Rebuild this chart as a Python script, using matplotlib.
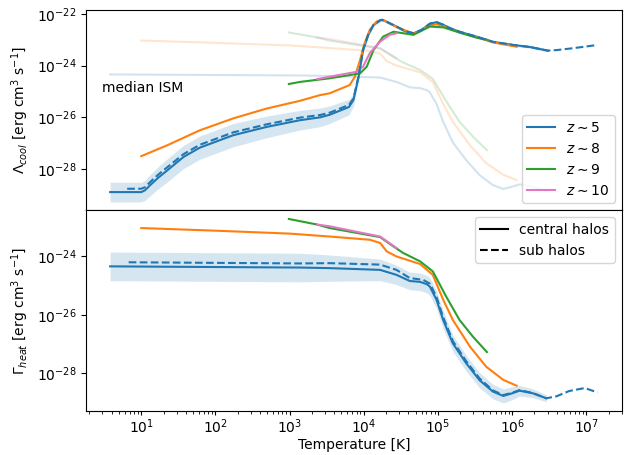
import numpy as np
import matplotlib
matplotlib.use("Agg")
import matplotlib.pyplot as plt
from matplotlib.ticker import FixedLocator, NullLocator, LogLocator

# ---------------- data (log10 values) ----------------
# Cooling rates (top panel)
cool_z5_c_logT = [0.58, 1.00, 1.05, 1.12, 1.23, 1.35, 1.57, 1.79, 2.24, 2.69, 3.14, 3.41, 3.54, 3.80,
                  3.86, 3.93, 3.99, 4.06, 4.13, 4.22, 4.25, 4.29, 4.44, 4.55, 4.67, 4.78, 4.89, 4.98,
                  5.07, 5.16, 5.29, 5.52, 5.74, 6.01, 6.24, 6.48]
cool_z5_c_logL = [-28.89, -28.89, -28.82, -28.62, -28.33, -28.05, -27.53, -27.17, -26.69, -26.37, -26.11,
                  -26.00, -25.90, -25.60, -25.33, -24.43, -23.40, -22.81, -22.43, -22.25, -22.23, -22.28,
                  -22.49, -22.66, -22.75, -22.62, -22.38, -22.32, -22.42, -22.55, -22.69, -22.88, -23.08,
                  -23.20, -23.28, -23.42]
cool_z5_c_width = [0.38, 0.38, 0.39, 0.41, 0.43, 0.45, 0.45, 0.45, 0.45, 0.42, 0.38, 0.36, 0.34, 0.30,
                   0.25, 0.18, 0.12, 0.08, 0.06, 0.05, 0.05, 0.05, 0.05, 0.05, 0.05, 0.05, 0.05, 0.05,
                   0.05, 0.05, 0.05, 0.05, 0.05, 0.05, 0.05, 0.05]

cool_z5_s_logT = [0.81, 1.00, 1.05, 1.12, 1.23, 1.35, 1.57, 1.79, 2.24, 2.69, 3.14, 3.41, 3.54, 3.80,
                  3.86, 3.93, 3.99, 4.06, 4.13, 4.22, 4.25, 4.29, 4.44, 4.55, 4.67, 4.78, 4.89, 4.98,
                  5.07, 5.16, 5.29, 5.52, 5.74, 6.01, 6.24, 6.48, 6.60, 6.81, 7.00, 7.15]
cool_z5_s_logL = [-28.76, -28.76, -28.70, -28.50, -28.21, -27.93, -27.42, -27.06, -26.58, -26.27, -26.01,
                  -25.91, -25.82, -25.52, -25.27, -24.40, -23.38, -22.80, -22.43, -22.25, -22.23, -22.28,
                  -22.49, -22.66, -22.75, -22.62, -22.38, -22.32, -22.42, -22.55, -22.69, -22.88, -23.08,
                  -23.20, -23.28, -23.42, -23.40, -23.33, -23.26, -23.20]

cool_z8_logT = [1.00, 1.35, 1.79, 2.24, 2.69, 3.14, 3.41, 3.54, 3.81, 3.88, 3.95, 4.01, 4.08, 4.17, 4.24,
                4.29, 4.44, 4.67, 4.89, 4.98, 5.07, 5.29, 5.52, 5.74, 6.06]
cool_z8_logL = [-27.50, -27.08, -26.50, -26.04, -25.66, -25.36, -25.14, -25.07, -24.75, -24.43, -23.78,
                -23.14, -22.62, -22.30, -22.23, -22.28, -22.50, -22.77, -22.45, -22.40, -22.47, -22.72,
                -22.90, -23.10, -23.27]

cool_z9_logT = [2.99, 3.14, 3.54, 3.95, 4.04, 4.13, 4.26, 4.40, 4.67, 4.89, 5.07, 5.29, 5.52, 5.66]
cool_z9_logL = [-24.71, -24.63, -24.49, -24.30, -24.04, -23.40, -22.88, -22.69, -22.81, -22.49, -22.52,
                -22.72, -22.92, -23.00]

cool_z10_logT = [3.37, 3.54, 3.90, 3.99, 4.08, 4.22, 4.35, 4.44]
cool_z10_logL = [-24.52, -24.43, -24.24, -24.04, -23.52, -23.07, -22.81, -22.75]

# Heating rates (bottom panel)
heat_z5_c_logT = [0.58, 3.14, 3.54, 4.22, 4.44, 4.62, 4.76, 4.85, 4.89, 4.98, 5.07, 5.20, 5.38, 5.56,
                  5.74, 5.88, 6.00, 6.10, 6.28, 6.46]
heat_z5_c_logG = [-24.34, -24.38, -24.40, -24.46, -24.63, -24.84, -24.87, -24.95, -25.03, -25.48, -26.17,
                  -26.97, -27.65, -28.23, -28.62, -28.77, -28.68, -28.59, -28.68, -28.85]
heat_z5_c_width = [0.49, 0.49, 0.45, 0.37, 0.33, 0.30, 0.30, 0.30, 0.30, 0.30, 0.30, 0.28, 0.27, 0.26,
                   0.25, 0.24, 0.22, 0.18, 0.15, 0.12]

heat_z5_s_logT = [0.83, 3.14, 3.54, 4.22, 4.44, 4.62, 4.80, 4.89, 4.98, 5.07, 5.20, 5.38, 5.56, 5.74,
                  5.88, 6.00, 6.10, 6.28, 6.46, 6.60, 6.77, 6.98, 7.15]
heat_z5_s_logG = [-24.20, -24.24, -24.23, -24.28, -24.46, -24.74, -24.80, -24.93, -25.38, -26.08, -26.89,
                  -27.58, -28.17, -28.58, -28.74, -28.66, -28.57, -28.67, -28.85, -28.78, -28.60,
                  -28.50, -28.65]

heat_z8_logT = [1.00, 2.00, 3.00, 3.54, 4.08, 4.22, 4.31, 4.44, 4.76, 4.93, 5.07, 5.20, 5.43, 5.65,
                5.88, 6.06]
heat_z8_logG = [-23.03, -23.12, -23.22, -23.32, -23.43, -23.54, -23.83, -24.00, -24.26, -24.63, -25.48,
                -26.17, -27.08, -27.77, -28.22, -28.42]

heat_z9_logT = [2.99, 3.37, 3.54, 4.22, 4.40, 4.53, 4.76, 4.93, 5.11, 5.29, 5.47, 5.66]
heat_z9_logG = [-22.72, -22.91, -23.03, -23.34, -23.66, -23.88, -24.17, -24.51, -25.37, -26.17, -26.74,
                -27.27]

heat_z10_logT = [3.37, 3.54, 4.22, 4.44]
heat_z10_logG = [-22.91, -22.97, -23.32, -23.71]

z_labels = [r"$z\sim5$", r"$z\sim8$", r"$z\sim9$", r"$z\sim10$"]
z_colors = ["#1f77b4", "#ff7f0e", "#2ca02c", "#e377c2"]
x_ticks = [1e1, 1e2, 1e3, 1e4, 1e5, 1e6, 1e7]


def p(a):
    return 10.0 ** np.asarray(a)


fig = plt.figure(figsize=(6.28, 4.55), dpi=100)
ax1 = fig.add_axes([0.137, 0.538, 0.853, 0.440])
ax2 = fig.add_axes([0.137, 0.097, 0.853, 0.441], sharex=ax1)

# ---------------- top: cooling ----------------
heat_sets = [(heat_z5_c_logT, heat_z5_c_logG), (heat_z8_logT, heat_z8_logG),
             (heat_z9_logT, heat_z9_logG), (heat_z10_logT, heat_z10_logG)]
for (t, g), c in zip(heat_sets, z_colors):
    ax1.plot(p(t), p(g), color=c, alpha=0.2, lw=1.5)

lo = np.asarray(cool_z5_c_logL) - np.asarray(cool_z5_c_width)
hi = np.asarray(cool_z5_c_logL) + np.asarray(cool_z5_c_width)
ax1.fill_between(p(cool_z5_c_logT), p(lo), p(hi), color=z_colors[0], alpha=0.18, lw=0)
ax1.plot(p(cool_z5_c_logT), p(cool_z5_c_logL), color=z_colors[0], lw=1.5, label=z_labels[0])
ax1.plot(p(cool_z8_logT), p(cool_z8_logL), color=z_colors[1], lw=1.5, label=z_labels[1])
ax1.plot(p(cool_z9_logT), p(cool_z9_logL), color=z_colors[2], lw=1.5, label=z_labels[2])
ax1.plot(p(cool_z10_logT), p(cool_z10_logL), color=z_colors[3], lw=1.5, label=z_labels[3])
ax1.plot(p(cool_z5_s_logT), p(cool_z5_s_logL), color=z_colors[0], lw=1.5, ls="--")

ax1.text(3.0, 10 ** -24.87, "median ISM", fontsize=10, ha="left", va="center")

ax1.set_xscale("log")
ax1.set_yscale("log")
ax1.set_xlim(1.8, 3.0e7)
ax1.set_ylim(10 ** -29.59, 10 ** -21.85)
ax1.xaxis.set_major_locator(FixedLocator(x_ticks))
ax1.xaxis.set_minor_locator(LogLocator(base=10, subs=np.arange(2, 10), numticks=20))
ax1.yaxis.set_major_locator(FixedLocator([1e-28, 1e-26, 1e-24, 1e-22]))
ax1.yaxis.set_minor_locator(NullLocator())
ax1.tick_params(axis="x", which="both", bottom=False, labelbottom=False)
ax1.set_ylabel(r"$\Lambda_{cool}$ [erg cm$^3$ s$^{-1}$]", fontsize=10)
ax1.legend(loc="lower right", fontsize=10)

# ---------------- bottom: heating ----------------
lo2 = np.asarray(heat_z5_c_logG) - np.asarray(heat_z5_c_width)
hi2 = np.asarray(heat_z5_c_logG) + np.asarray(heat_z5_c_width)
ax2.fill_between(p(heat_z5_c_logT), p(lo2), p(hi2), color=z_colors[0], alpha=0.18, lw=0)
ax2.plot(p(heat_z5_c_logT), p(heat_z5_c_logG), color=z_colors[0], lw=1.5)
ax2.plot(p(heat_z8_logT), p(heat_z8_logG), color=z_colors[1], lw=1.5)
ax2.plot(p(heat_z9_logT), p(heat_z9_logG), color=z_colors[2], lw=1.5)
ax2.plot(p(heat_z10_logT), p(heat_z10_logG), color=z_colors[3], lw=1.5)
ax2.plot(p(heat_z5_s_logT), p(heat_z5_s_logG), color=z_colors[0], lw=1.5, ls="--")

ax2.plot([], [], color="k", lw=1.5, label="central halos")
ax2.plot([], [], color="k", lw=1.5, ls="--", label="sub halos")
ax2.legend(loc="upper right", fontsize=10)

ax2.set_yscale("log")
ax2.set_ylim(10 ** -29.28, 10 ** -22.42)
ax2.yaxis.set_major_locator(FixedLocator([1e-28, 1e-26, 1e-24]))
ax2.yaxis.set_minor_locator(NullLocator())
ax2.tick_params(axis="x", which="major", length=3, pad=1.5)
ax2.tick_params(axis="x", which="minor", length=2, labelbottom=False)
ax2.set_ylabel(r"$\Gamma_{heat}$ [erg cm$^3$ s$^{-1}$]", fontsize=10)
ax2.set_xlabel("Temperature [K]", fontsize=10, labelpad=2)

fig.savefig("out.png", dpi=100)
